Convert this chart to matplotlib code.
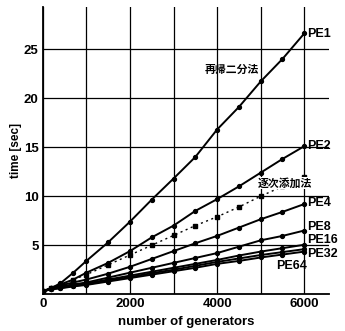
import matplotlib.pyplot as plt

plt.rcParams['font.family'] = ['Liberation Sans', 'Noto Sans CJK JP', 'DejaVu Sans']

# number of generators
gens = [0, 200, 400, 700, 1000, 1500, 2000, 2500, 3000, 3500, 4000, 4500, 5000, 5500, 6000]

# time [sec] per processor count (recursive bisection)
pe1 = [0.3, 0.65, 1.1, 2.2, 3.4, 5.3, 7.4, 9.65, 11.8, 14.0, 16.8, 19.1, 21.7, 24.0, 26.6]
pe2 = [0.3, 0.65, 1.0, 1.5, 2.2, 3.2, 4.4, 5.8, 7.0, 8.5, 9.7, 11.0, 12.4, 13.8, 15.1]
pe4 = [0.3, 0.6, 0.9, 1.2, 1.5, 2.1, 2.8, 3.6, 4.4, 5.2, 5.95, 6.8, 7.65, 8.4, 9.2]
pe8 = [0.3, 0.6, 0.8, 1.0, 1.2, 1.7, 2.2, 2.7, 3.2, 3.7, 4.2, 4.85, 5.5, 5.95, 6.5]
pe16 = [0.3, 0.55, 0.7, 0.9, 1.1, 1.5, 1.9, 2.3, 2.7, 3.1, 3.5, 3.95, 4.35, 4.7, 5.05]
pe32 = [0.3, 0.55, 0.65, 0.85, 1.0, 1.4, 1.75, 2.15, 2.5, 2.9, 3.3, 3.65, 4.0, 4.3, 4.6]
pe64 = [0.3, 0.5, 0.6, 0.8, 0.95, 1.3, 1.65, 2.0, 2.35, 2.7, 3.1, 3.4, 3.75, 4.05, 4.35]

# sequential addition (single PE), dotted
seq = [0.3, 0.6, 0.9, 1.5, 2.0, 3.0, 4.0, 5.0, 6.0, 7.0, 7.9, 8.9, 10.0, 11.0, 12.0]

series = [pe1, pe2, pe4, pe8, pe16, pe32, pe64]
names = ['PE1', 'PE2', 'PE4', 'PE8', 'PE16', 'PE32', 'PE64']
# label anchor (x, y) in data units
label_pos = [(6060, 26.5), (6060, 15.1), (6060, 9.3), (6060, 6.85),
             (6060, 5.55), (6060, 4.1), (5350, 2.9)]

fig = plt.figure(figsize=(3.45, 3.31), dpi=100)
ax = fig.add_axes([0.124, 0.111, 0.830, 0.868])

ax.plot(gens, seq, color='black', lw=1.0, ls=(0, (1.5, 2.5)),
        marker='s', ms=2.5, zorder=3)
for ys in series:
    ax.plot(gens, ys, color='black', lw=1.4, marker='o', ms=2.8, zorder=3)

for name, (lx, ly) in zip(names, label_pos):
    ax.text(lx, ly, name, fontsize=9, fontweight='bold', ha='left', va='center')

ax.text(4345, 22.9, '再帰二分法', family=['Noto Sans CJK JP'], fontsize=7.8,
        fontweight='bold', ha='center', va='center')
ax.text(4930, 11.35, '逐次添加法', family=['Noto Sans CJK JP'], fontsize=7.8,
        fontweight='bold', ha='left', va='center',
        bbox=dict(facecolor='white', edgecolor='none', pad=0.5), zorder=4)

ax.set_xlim(0, 6570)
ax.set_ylim(0, 29.3)
ax.set_xticks(range(0, 7000, 1000))
ax.set_xticklabels(['0', '', '2000', '', '4000', '', '6000'])
ax.set_yticks([5, 10, 15, 20, 25])
ax.tick_params(length=0, labelsize=9.5, pad=3)
for lab in ax.get_xticklabels() + ax.get_yticklabels():
    lab.set_fontweight('bold')

ax.grid(True, color='black', lw=0.9)
ax.set_axisbelow(True)
for s in ['top', 'right']:
    ax.spines[s].set_visible(False)
for s in ['left', 'bottom']:
    ax.spines[s].set_linewidth(1.3)

ax.set_xlabel('number of generators', fontsize=9.5, fontweight='bold', labelpad=4)
ax.set_ylabel('time [sec]', fontsize=8.5, fontweight='bold', labelpad=1)

fig.savefig('out.png', dpi=100)
